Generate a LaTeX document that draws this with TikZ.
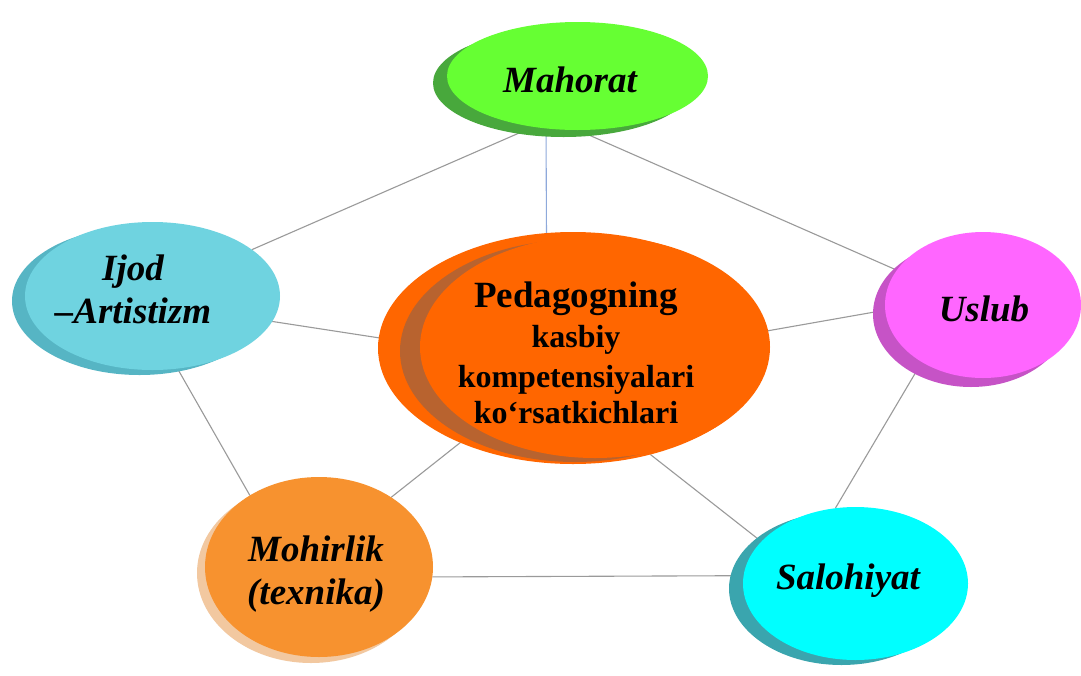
\documentclass[tikz,border=0pt]{standalone}
\usepackage{fontspec}
\setmainfont{Liberation Serif}
\usetikzlibrary{shapes.geometric,backgrounds}
\definecolor{grnM}{HTML}{66FF33}
\definecolor{grnS}{HTML}{48A83C}
\definecolor{ijM}{HTML}{6FD3E0}
\definecolor{ijS}{HTML}{56B5C4}
\definecolor{orC}{HTML}{FF6600}
\definecolor{brC}{HTML}{B8632F}
\definecolor{usM}{HTML}{FF66FF}
\definecolor{usS}{HTML}{C653C6}
\definecolor{moM}{HTML}{F7922F}
\definecolor{moS}{HTML}{F2C8A0}
\definecolor{saM}{HTML}{00FFFF}
\definecolor{saS}{HTML}{3AA5AE}
\definecolor{lineG}{HTML}{9A9A9A}
\definecolor{lineB}{HTML}{8EA9DB}
\begin{document}
\begin{tikzpicture}[x=1pt,y=-1pt,
  bub/.style={ellipse,draw=none,inner sep=0pt,outer sep=0pt},
  lbl/.style={font=\fontsize{37}{43}\selectfont\bfseries\itshape,align=center,inner sep=0pt},
  ctrlbl/.style={font=\fontsize{32}{40}\selectfont\bfseries,align=center,inner sep=0pt},
  link/.style={draw=lineG,line width=1.1pt}]
\useasboundingbox (0,0) rectangle (1081,675);
% Mahorat
\fill[grnS] (563.5,83) ellipse [x radius=130.5, y radius=54];
\node[bub,fill=grnM,minimum width=261pt,minimum height=108pt] (mah) at (577.5,76) {};
\node[lbl] (mah-t) at (570,80) {Mahorat};
% Ijod
\fill[ijS] (139.5,301) ellipse [x radius=127.5, y radius=74];
\node[bub,fill=ijM,minimum width=255pt,minimum height=148pt] (ijod) at (152.5,296) {};
\node[lbl] (ijod-t) at (133,289) {Ijod\\–Artistizm};
% Uslub
\fill[usS] (971,314) ellipse [x radius=98, y radius=73];
\node[bub,fill=usM,minimum width=196pt,minimum height=146pt] (usl) at (983,305) {};
\node[lbl] (usl-t) at (984,309) {Uslub};
% Mohirlik
\fill[moS] (311,573) ellipse [x radius=114, y radius=90];
\node[bub,fill=moM,minimum width=228pt,minimum height=180pt] (moh) at (319,567) {};
\node[lbl] (moh-t) at (316,574) {Mohirlik\\(texnika)};
% Salohiyat
\fill[saS] (841.5,588.5) ellipse [x radius=112.5, y radius=76.5];
\node[bub,fill=saM,minimum width=225pt,minimum height=153pt] (sal) at (855.5,583.5) {};
\node[lbl] (sal-t) at (848,581) {Salohiyat};
% Centre
\node[bub,fill=orC,minimum width=390pt,minimum height=232pt] (ctr) at (573,348) {};
\fill[brC] (575,351) ellipse [x radius=175, y radius=111];
\fill[orC] (595,347) ellipse [x radius=175, y radius=111];
\node[ctrlbl] (ctr-t) at (576,353)
  {{\fontsize{37}{40}\selectfont Pedagogning}\\kasbiy\\kompetensiyalari\\[-4pt]ko‘rsatkichlari};
% connectors
\begin{pgfonlayer}{background}
\fill[white] (0,0) rectangle (1081,675);
\draw[link] (mah.229.6) -- (ijod.25.8);
\draw[link] (mah.270) -- (usl.158.2);
\draw[link,draw=lineB] (mah.239) -- (ctr.103.2);
\draw[link] (ijod.348.6) -- (ctr.177.9);
\draw[link] (ijod.289.65) -- (moh.134.6);
\draw[link] (ctr.5.09) -- (usl.183.6);
\draw[link] (usl.223.3) -- (sal.105.2);
\draw[link] (ctr.220) -- (moh.44.6);
\draw[link] (ctr.306.5) -- (sal.156.1);
\draw[link] (moh.355.5) -- (sal.176.2);
\end{pgfonlayer}
\end{tikzpicture}
\end{document}
